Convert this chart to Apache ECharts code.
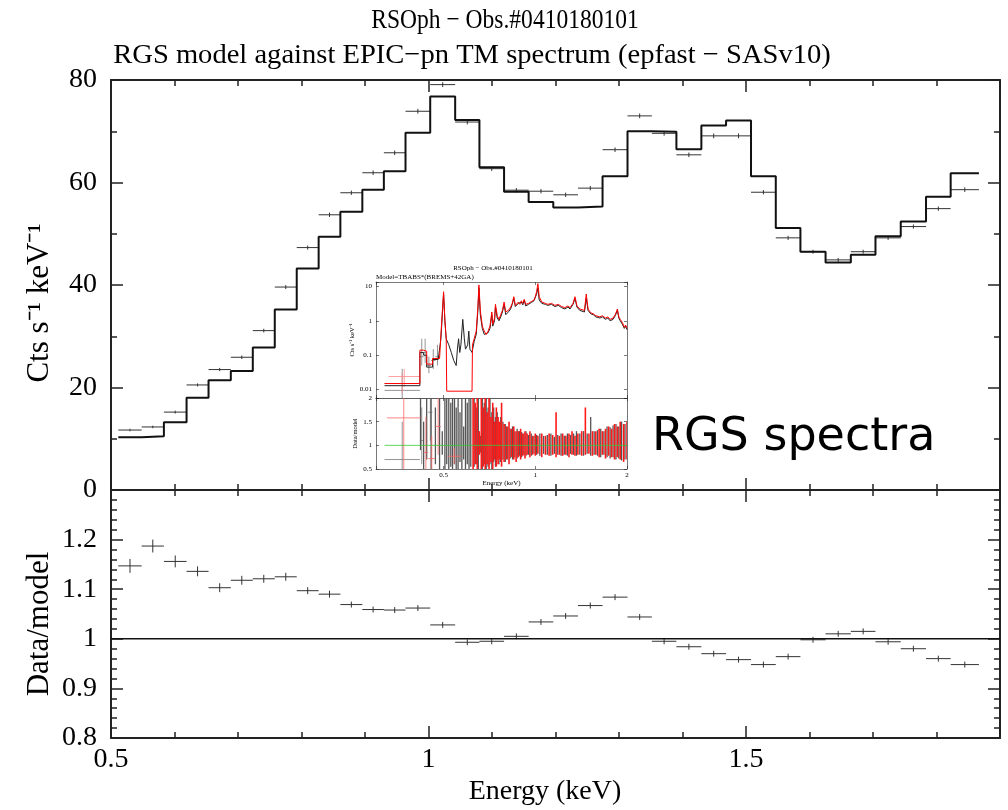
<!DOCTYPE html>
<html><head><meta charset="utf-8">
<script src="https://cdn.jsdelivr.net/npm/echarts@6/dist/echarts.min.js"></script>
<style>html,body{margin:0;padding:0;background:#fff}#c{width:1008px;height:810px}</style>
</head><body><div id="c"></div>
<script>
// ---------------- main EPIC-pn spectrum (keV bins) ----------------
const binEdges = [0.5115,0.5483,0.5833,0.6190,0.6536,0.6887,0.7233,0.7579,0.7925,0.8270,0.8612,0.8958,0.9297,0.9638,1.0027,1.0420,1.0802,1.1190,1.1577,1.1965,1.2354,1.2741,1.3134,1.3517,1.3904,1.4297,1.4686,1.5079,1.5469,1.5857,1.6253,1.6651,1.7039,1.7437,1.7835,1.8223,1.8668];
const modelCounts = [10.3,10.5,13.2,18.0,21.4,23.2,27.8,35.2,43.2,49.4,54.3,58.6,62.2,69.7,76.8,72.2,63.0,58.2,56.2,55.1,55.3,61.2,70.0,69.9,66.5,71.1,72.1,61.2,51.1,46.5,44.4,45.9,49.5,52.4,57.2,61.8];
const dataCounts = [11.7,12.3,15.2,20.5,23.5,25.9,31.1,39.6,47.3,53.7,58.0,61.9,65.8,73.9,79.1,71.8,62.7,58.5,58.3,57.6,58.9,66.4,73.0,69.6,65.4,69.1,69.1,58.1,49.2,46.5,44.9,46.5,49.2,51.4,54.9,58.6];
const dataErr = [0.25,0.25,0.28,0.3,0.32,0.34,0.36,0.38,0.4,0.42,0.42,0.44,0.44,0.46,0.48,0.46,0.44,0.42,0.42,0.42,0.42,0.44,0.46,0.46,0.44,0.46,0.46,0.42,0.4,0.38,0.38,0.38,0.4,0.4,0.42,0.44];
const ratioValues = [1.147,1.187,1.156,1.136,1.103,1.118,1.121,1.125,1.097,1.090,1.069,1.059,1.058,1.062,1.028,0.993,0.995,1.005,1.034,1.046,1.067,1.084,1.044,0.995,0.984,0.970,0.958,0.948,0.964,0.998,1.010,1.015,0.994,0.980,0.960,0.948];
const ratioErr = [0.014,0.013,0.012,0.010,0.009,0.009,0.008,0.008,0.007,0.007,0.006,0.006,0.006,0.006,0.006,0.006,0.006,0.006,0.006,0.006,0.006,0.006,0.006,0.006,0.006,0.006,0.006,0.006,0.006,0.006,0.006,0.006,0.006,0.006,0.006,0.006];
const xTickLabels = ['0.5','1','1.5'];
const countTickLabels = ['0','20','40','60','80'];
const ratioTickLabels = ['0.8','0.9','1','1.1','1.2'];
const ratioUnity = [1];

// ---------------- inset: RGS spectra ----------------
const insetBlackE = [0.32,0.418,0.418,0.43,0.43,0.44,0.44,0.46,0.46,0.48,0.49,0.497,0.5,0.505,0.51,0.52,0.53,0.54,0.55,0.555,0.56,0.565,0.57,0.578,0.585,0.59,0.6,0.605,0.61,0.62,0.63,0.64,0.648,0.653,0.66,0.67,0.68,0.69,0.7,0.71,0.72,0.725,0.735,0.74,0.75,0.76,0.77,0.78,0.79,0.8,0.81,0.82,0.83,0.84,0.85,0.86,0.87,0.88,0.89,0.9,0.91,0.92,0.93,0.95,0.97,0.99,1.01,1.02,1.03,1.05,1.08,1.1,1.13,1.16,1.19,1.22,1.25,1.28,1.3,1.33,1.35,1.37,1.4,1.42,1.45,1.47,1.49,1.52,1.55,1.58,1.6,1.63,1.66,1.7,1.73,1.76,1.8,1.83,1.86,1.88,1.9,1.93,1.96,1.98,2.0];
const insetBlackV = [0.013,0.013,0.12,0.12,0.1,0.1,0.045,0.045,0.075,0.075,0.3,2.5,6,1,0.3,0.2,0.12,0.07,0.05,0.15,0.3,0.12,0.2,1.1,0.3,0.15,0.2,0.5,0.15,0.12,0.25,0.4,2,9,1.5,0.6,0.4,0.35,0.45,0.6,1.5,0.7,1.0,2.5,1.2,1.0,1.3,1.8,3,1.5,1.6,1.9,2.2,3,4.5,2.6,2.4,3.2,2.8,3.5,2.9,4,2.7,3,3.4,3.8,6,9,4,3.2,3,2.8,3,2.6,2.8,2.4,2.2,2.5,2.2,3,4.5,2.5,2,2.2,1.8,4.5,2,1.6,1.5,1.3,1.4,1.2,1.3,1.1,1.2,1,1.1,1.4,2,1.2,1,0.8,0.6,0.7,0.55];
const insetRedE = [0.32,0.418,0.418,0.43,0.43,0.44,0.44,0.46,0.46,0.485,0.49,0.497,0.5,0.505,0.51,0.512,0.62,0.622,0.63,0.64,0.648,0.653,0.66,0.67,0.68,0.69,0.7,0.71,0.72,0.725,0.735,0.74,0.75,0.76,0.77,0.78,0.79,0.8,0.81,0.82,0.83,0.84,0.85,0.86,0.87,0.88,0.89,0.9,0.91,0.92,0.93,0.95,0.97,0.99,1.0,1.01,1.02,1.03,1.05,1.08,1.1,1.13,1.16,1.19,1.22,1.25,1.28,1.3,1.33,1.35,1.37,1.4,1.42,1.45,1.47,1.49,1.52,1.55,1.58,1.6,1.63,1.66,1.7,1.73,1.76,1.8,1.83,1.86,1.88,1.9,1.93,1.96,1.98,2.0];
const insetRedV = [0.015,0.015,0.14,0.14,0.13,0.13,0.055,0.055,0.08,0.08,0.4,3,7,1,0.3,0.009,0.009,0.2,0.3,0.5,2.5,11,2,0.7,0.5,0.4,0.5,0.7,1.8,0.8,1.2,3,1.4,1.1,1.5,2,3.5,1.8,1.9,2.1,2.5,3.2,5,2.8,2.6,3.5,3,3.8,3.2,4.2,3,3.2,3.6,4,5,7,12,5,3.5,3.2,3,3.2,2.8,3,2.6,2.4,2.7,2.4,3.2,5,2.7,2.2,2.4,2,6,2.2,1.7,1.6,1.4,1.5,1.3,1.4,1.2,1.3,1.1,1.2,1.5,2.2,1.3,1.1,0.9,0.65,0.75,0.6];
// low-energy crosses: [E low, E high, value, value low, value high]
const insetTopBlackCross = [[0.32,0.418,0.0095,0.005,0.04],[0.418,0.43,0.09,0.05,0.3],[0.43,0.44,0.12,0.06,0.3],[0.44,0.455,0.05,0.03,0.09],[0.455,0.47,0.07,0.04,0.15],[0.47,0.485,0.09,0.05,0.2]];
const insetTopRedCross = [[0.33,0.418,0.024,0.012,0.04],[0.32,0.418,0.015,0.008,0.03]];
const insetRatioRedCross = [[0.326,0.42,1.58,0.5,2],[0.43,0.445,0.85,0.5,1.6],[0.445,0.47,0.72,0.5,1.2],[0.47,0.49,1.4,0.8,2],[0.515,0.57,0.77,0.6,0.95]];
const insetRatioBlackCross = [[0.32,0.418,0.70,0.5,1.5],[0.445,0.46,1.7,1.1,2],[0.418,0.43,1.1,0.6,1.8]];
const insetRatioRedE = [0.625,0.635,0.645,0.655,0.665,0.675,0.685,0.695,0.705,0.715,0.725,0.735,0.745,0.755,0.765,0.775,0.79,0.805,0.82,0.835,0.85,0.865,0.88,0.895,0.91,0.925,0.94,0.96,0.98,1.0,1.02,1.05,1.08,1.11,1.14,1.17,1.2,1.23,1.26,1.29,1.32,1.35,1.38,1.42,1.46,1.5,1.54,1.58,1.62,1.66,1.7,1.74,1.78,1.82,1.86,1.9,1.95,2.0];
const insetRatioRedLo = [0.5,0.6,0.5,0.8,0.5,0.55,0.5,0.6,0.5,0.65,0.5,0.7,0.55,0.6,0.7,0.55,0.65,0.7,0.6,0.75,0.7,0.65,0.75,0.7,0.78,0.72,0.8,0.75,0.8,0.78,0.82,0.75,0.8,0.78,0.8,0.75,0.8,0.78,0.8,0.75,0.8,0.78,0.8,0.78,0.8,0.82,0.78,0.8,0.75,0.8,0.72,0.78,0.75,0.7,0.75,0.7,0.65,0.7];
const insetRatioRedHi = [2,1.9,2,1.3,2,1.8,2,1.7,2,1.6,1.9,1.5,1.8,1.6,1.5,1.9,1.45,1.4,1.5,1.35,1.4,1.3,1.3,1.35,1.25,1.3,1.25,1.3,1.2,1.25,1.2,1.25,1.2,1.25,1.22,1.7,1.2,1.25,1.2,1.25,1.3,1.2,1.25,1.3,1.8,1.25,1.3,1.3,1.35,1.3,1.35,1.4,1.35,1.45,1.4,1.5,1.45,1.5];
const insetRatioBlackE = [0.42,0.43,0.44,0.455,0.47,0.485,0.495,0.505,0.512,0.52,0.528,0.535,0.543,0.55,0.558,0.566,0.574,0.582,0.59,0.598,0.606,0.614,0.63,0.64,0.65,0.66,0.67,0.68,0.69,0.70,0.71,0.72,0.73,0.74,0.75,0.76,0.77,0.783,0.797,0.812,0.827,0.842,0.857,0.872,0.887,0.902,0.917,0.932,0.95,0.97,0.99,1.01,1.035,1.065,1.095,1.125,1.155,1.185,1.215,1.245,1.275,1.305,1.335,1.365,1.4,1.44,1.48,1.52,1.56,1.6,1.64,1.68,1.72,1.76,1.8,1.84,1.88,1.92,1.97];
const insetRatioBlackLo = [0.9,0.5,0.7,0.5,0.6,0.5,0.8,0.5,0.6,0.5,0.55,0.5,0.6,0.5,0.5,0.65,0.5,0.7,0.5,0.6,0.5,0.55,0.55,0.6,0.5,0.85,0.5,0.6,0.5,0.55,0.6,0.5,0.65,0.55,0.7,0.6,0.65,0.7,0.65,0.7,0.72,0.7,0.75,0.72,0.78,0.75,0.8,0.78,0.8,0.78,0.82,0.8,0.78,0.82,0.8,0.78,0.82,0.8,0.78,0.8,0.78,0.82,0.8,0.78,0.8,0.78,0.82,0.78,0.8,0.78,0.75,0.8,0.75,0.72,0.75,0.7,0.72,0.68,0.7];
const insetRatioBlackHi = [2,1.5,2,2,1.8,2,1.3,2,2,2,1.9,2,2,1.8,2,1.7,2,1.4,2,1.9,2,2,2,1.8,2,1.2,2,1.9,2,1.8,2,1.7,1.8,1.6,1.7,1.5,1.6,1.5,1.45,1.4,1.35,1.4,1.3,1.35,1.3,1.28,1.25,1.3,1.22,1.25,1.2,1.22,1.25,1.2,1.22,1.25,1.18,1.22,1.25,1.2,1.25,1.22,1.25,1.3,1.25,1.3,1.25,1.6,1.3,1.32,1.35,1.3,1.4,1.38,1.42,1.45,1.4,1.5,1.45];
const insetUnityE = [0.32, 2.0];
const insetXTickLabels = ['0.5','1','2'];
const insetYTickLabels = ['10','1','0.1','0.01'];
const insetRatioTickLabels = ['0.5','1','1.5','2'];

// ---------------- chart ----------------
const SERIF = 'Liberation Serif';
const AX = '#222';
const X_MIN = 0.5, X_MAX = 1.9;
const fmt = (list) => (v) => { const s = String(+(+v).toPrecision(4)); return list.includes(s) ? s : ''; };

function baseAxis(extra) {
  return Object.assign({
    type: 'value', splitLine: {show: false},
    axisLine: {show: false, onZero: false},
    axisLabel: {show: false}, axisTick: {show: false}
  }, extra);
}
const frameLine = {show: true, onZero: false, lineStyle: {color: AX, width: 2}};
const insetLine = {show: true, onZero: false, lineStyle: {color: '#555', width: 0.8}};
const tick = (len, w) => ({show: true, inside: true, length: len, lineStyle: {color: AX, width: w || 1.5}});

function mainXAxes(grid, labels) {
  const out = [];
  ['bottom', 'top'].forEach(pos => {
    out.push(baseAxis({gridIndex: grid, position: pos, min: X_MIN, max: X_MAX, interval: 0.5,
      axisLine: frameLine, axisTick: tick(12),
      axisLabel: (labels && pos === 'bottom') ? {show: true, fontSize: 28, fontFamily: SERIF, color: '#000', margin: 8, formatter: fmt(xTickLabels)} : {show: false}}));
    out.push(baseAxis({gridIndex: grid, position: pos, min: X_MIN, max: X_MAX, interval: 0.1, axisTick: tick(6)}));
  });
  return out;
}

const xAxes = [].concat(
  mainXAxes(0, false),           // 0..3
  mainXAxes(1, true),            // 4..7
  [
    baseAxis({type: 'log', logBase: 2, gridIndex: 2, position: 'bottom', min: 0.3, max: 2, axisLine: insetLine, axisTick: tick(3, 0.6)}),
    baseAxis({type: 'log', logBase: 2, gridIndex: 2, position: 'top', min: 0.3, max: 2, axisLine: insetLine, axisTick: tick(3, 0.6)}),
    baseAxis({type: 'log', logBase: 2, gridIndex: 3, position: 'bottom', min: 0.3, max: 2, axisLine: insetLine, axisTick: tick(3, 0.6),
      axisLabel: {show: true, fontSize: 7, fontFamily: SERIF, color: '#000', margin: 3, formatter: fmt(insetXTickLabels)},
      name: 'Energy (keV)', nameLocation: 'middle', nameGap: 10, nameTextStyle: {fontSize: 7, fontFamily: SERIF, color: '#000'}}),
    baseAxis({type: 'log', logBase: 2, gridIndex: 3, position: 'top', min: 0.3, max: 2, axisLine: insetLine, axisTick: tick(3, 0.6)})
  ]
);

const yAxes = [
  baseAxis({gridIndex: 0, position: 'left', min: 0, max: 80, interval: 20, axisLine: frameLine, axisTick: tick(12),
    minorTick: {show: true, splitNumber: 2, length: 6, lineStyle: {color: AX, width: 1.5}},
    axisLabel: {show: true, fontSize: 28, fontFamily: SERIF, color: '#000', margin: 14, formatter: fmt(countTickLabels)}}),
  baseAxis({gridIndex: 0, position: 'right', min: 0, max: 80, interval: 20, axisLine: frameLine, axisTick: tick(12),
    minorTick: {show: true, splitNumber: 2, length: 6, lineStyle: {color: AX, width: 1.5}}}),
  baseAxis({gridIndex: 1, position: 'left', min: 0.8, max: 1.3, interval: 0.1, axisLine: frameLine, axisTick: tick(12),
    minorTick: {show: true, splitNumber: 5, length: 6, lineStyle: {color: AX, width: 1.5}},
    axisLabel: {show: true, fontSize: 28, fontFamily: SERIF, color: '#000', margin: 14, formatter: fmt(ratioTickLabels)}}),
  baseAxis({gridIndex: 1, position: 'right', min: 0.8, max: 1.3, interval: 0.1, axisLine: frameLine, axisTick: tick(12),
    minorTick: {show: true, splitNumber: 5, length: 6, lineStyle: {color: AX, width: 1.5}}}),
  baseAxis({type: 'log', logBase: 10, gridIndex: 2, position: 'left', min: 0.0057, max: 13.4, axisLine: insetLine, axisTick: tick(3, 0.6),
    axisLabel: {show: true, fontSize: 7, fontFamily: SERIF, color: '#000', margin: 4, formatter: fmt(insetYTickLabels)},
    name: 'Cts s\u207B\u00B9 keV\u207B\u00B9', nameLocation: 'middle', nameGap: 17, nameRotate: 90,
    nameTextStyle: {fontSize: 6.5, fontFamily: SERIF, color: '#000'}}),
  baseAxis({type: 'log', logBase: 10, gridIndex: 2, position: 'right', min: 0.0057, max: 13.4, axisLine: insetLine, axisTick: tick(3, 0.6)}),
  baseAxis({gridIndex: 3, position: 'left', min: 0.5, max: 2, interval: 0.5, axisLine: insetLine, axisTick: tick(3, 0.6),
    axisLabel: {show: true, fontSize: 7, fontFamily: SERIF, color: '#000', margin: 4, formatter: fmt(insetRatioTickLabels)},
    name: 'Data/model', nameLocation: 'middle', nameGap: 17, nameRotate: 90,
    nameTextStyle: {fontSize: 6.5, fontFamily: SERIF, color: '#000'}}),
  baseAxis({gridIndex: 3, position: 'right', min: 0.5, max: 2, interval: 0.5, axisLine: insetLine, axisTick: tick(3, 0.6)})
];

// ----- build series data from the arrays -----
const modelStep = [];
modelCounts.forEach((m, i) => { modelStep.push([binEdges[i], m], [binEdges[i + 1], m]); });
const dataCross = dataCounts.map((v, i) => [binEdges[i], binEdges[i + 1], v - dataErr[i], v + dataErr[i], v]);
const ratioCross = ratioValues.map((v, i) => [binEdges[i], binEdges[i + 1], v - ratioErr[i], v + ratioErr[i], v]);
const unityLine = [[X_MIN, ratioUnity[0]], [X_MAX, ratioUnity[0]]];
const pairs = (xs, ys) => xs.map((x, i) => [x, ys[i]]);
const insetCrossData = (arr) => arr.map(c => [c[0], c[1], c[3], c[4], c[2]]);
const segData = (es, lo, hi) => es.map((e, i) => [e, lo[i], hi[i]]);

function crossSeries(data, xi, yi, color, w) {
  return {
    type: 'custom', xAxisIndex: xi, yAxisIndex: yi, data: data, silent: true, clip: true,
    encode: {x: [0, 1], y: [2, 3]},
    renderItem: function (params, api) {
      const a = api.coord([api.value(0), api.value(4)]);
      const b = api.coord([api.value(1), api.value(4)]);
      const lo = api.coord([api.value(0), api.value(2)]);
      const hi = api.coord([api.value(0), api.value(3)]);
      const xm = (a[0] + b[0]) / 2;
      return {type: 'group', children: [
        {type: 'line', shape: {x1: a[0], y1: a[1], x2: b[0], y2: b[1]}, style: {stroke: color, lineWidth: w}},
        {type: 'line', shape: {x1: xm, y1: lo[1], x2: xm, y2: hi[1]}, style: {stroke: color, lineWidth: w}}
      ]};
    }
  };
}
function segSeries(data, xi, yi, color, w) {
  return {
    type: 'custom', xAxisIndex: xi, yAxisIndex: yi, data: data, silent: true, clip: true,
    encode: {x: [0], y: [1, 2]},
    renderItem: function (params, api) {
      const lo = api.coord([api.value(0), api.value(1)]);
      const hi = api.coord([api.value(0), api.value(2)]);
      return {type: 'line', shape: {x1: lo[0], y1: lo[1], x2: hi[0], y2: hi[1]}, style: {stroke: color, lineWidth: w}};
    }
  };
}

const txt = (x, y, text, size, family, extra) => Object.assign({type: 'text', x: x, y: y,
  style: {text: text, fontSize: size, fontFamily: family, fill: '#000', align: 'center', verticalAlign: 'middle'}}, extra || {});

const option = {
  animation: false,
  backgroundColor: '#fff',
  grid: [
    {left: 111, top: 80, width: 889, height: 410},
    {left: 111, top: 490, width: 889, height: 248},
    {left: 376, top: 282, width: 251, height: 116},
    {left: 376, top: 398, width: 251, height: 71}
  ],
  xAxis: xAxes,
  yAxis: yAxes,
  graphic: [
    txt(505, 21, 'RSOph \u2212 Obs.#0410180101', 28, SERIF, {scaleX: 0.84}),
    txt(472, 56, 'RGS model against EPIC\u2212pn TM spectrum (epfast \u2212 SASv10)', 28, SERIF, {scaleX: 1.02}),
    txt(40, 303, 'Cts s\u207B\u00B9 keV\u207B\u00B9', 31, SERIF, {rotation: Math.PI / 2}),
    txt(40, 624, 'Data/model', 31, SERIF, {rotation: Math.PI / 2}),
    txt(545, 792, 'Energy (keV)', 28, SERIF),
    txt(493, 268, 'RSOph \u2212 Obs.#0410180101', 7, SERIF),
    {type: 'text', x: 376, y: 277, style: {text: 'Model=TBABS*(BREMS+42GA)', fontSize: 7, fontFamily: SERIF, fill: '#000', align: 'left', verticalAlign: 'middle'}},
    {type: 'text', x: 652, y: 438, style: {text: 'RGS spectra', fontSize: 46, fontFamily: 'DejaVu Sans', fill: '#000', align: 'left', verticalAlign: 'middle'}}
  ],
  series: [
    crossSeries(dataCross, 0, 0, '#333', 1),
    {type: 'line', xAxisIndex: 0, yAxisIndex: 0, data: modelStep, showSymbol: false, silent: true,
      lineStyle: {color: '#111', width: 2}},
    {type: 'line', xAxisIndex: 4, yAxisIndex: 2, data: unityLine, showSymbol: false, silent: true,
      lineStyle: {color: '#111', width: 1.5}},
    crossSeries(ratioCross, 4, 2, '#333', 1),
    // inset top
    crossSeries(insetCrossData(insetTopBlackCross), 8, 4, '#777', 0.8),
    crossSeries(insetCrossData(insetTopRedCross), 8, 4, '#f88', 0.8),
    {type: 'line', xAxisIndex: 8, yAxisIndex: 4, data: pairs(insetBlackE, insetBlackV), showSymbol: false, silent: true,
      lineStyle: {color: '#222', width: 1}},
    {type: 'line', xAxisIndex: 8, yAxisIndex: 4, data: pairs(insetRedE, insetRedV), showSymbol: false, silent: true,
      lineStyle: {color: '#ff0000', width: 1}},
    // inset ratio
    {type: 'line', xAxisIndex: 10, yAxisIndex: 6, data: insetUnityE.map(e => [e, 1]), showSymbol: false, silent: true,
      lineStyle: {color: '#33cc33', width: 0.8}},
    crossSeries(insetCrossData(insetRatioBlackCross), 10, 6, '#777', 0.8),
    segSeries(segData(insetRatioBlackE, insetRatioBlackLo, insetRatioBlackHi), 10, 6, '#555', 1.3),
    crossSeries(insetCrossData(insetRatioRedCross), 10, 6, '#f66', 0.8),
    segSeries(segData(insetRatioRedE, insetRatioRedLo, insetRatioRedHi), 10, 6, '#ff1a1a', 1.6)
  ]
};
const chart = echarts.init(document.getElementById('c'), null, {renderer: 'canvas'});
chart.setOption(option);
</script>
</body></html>
